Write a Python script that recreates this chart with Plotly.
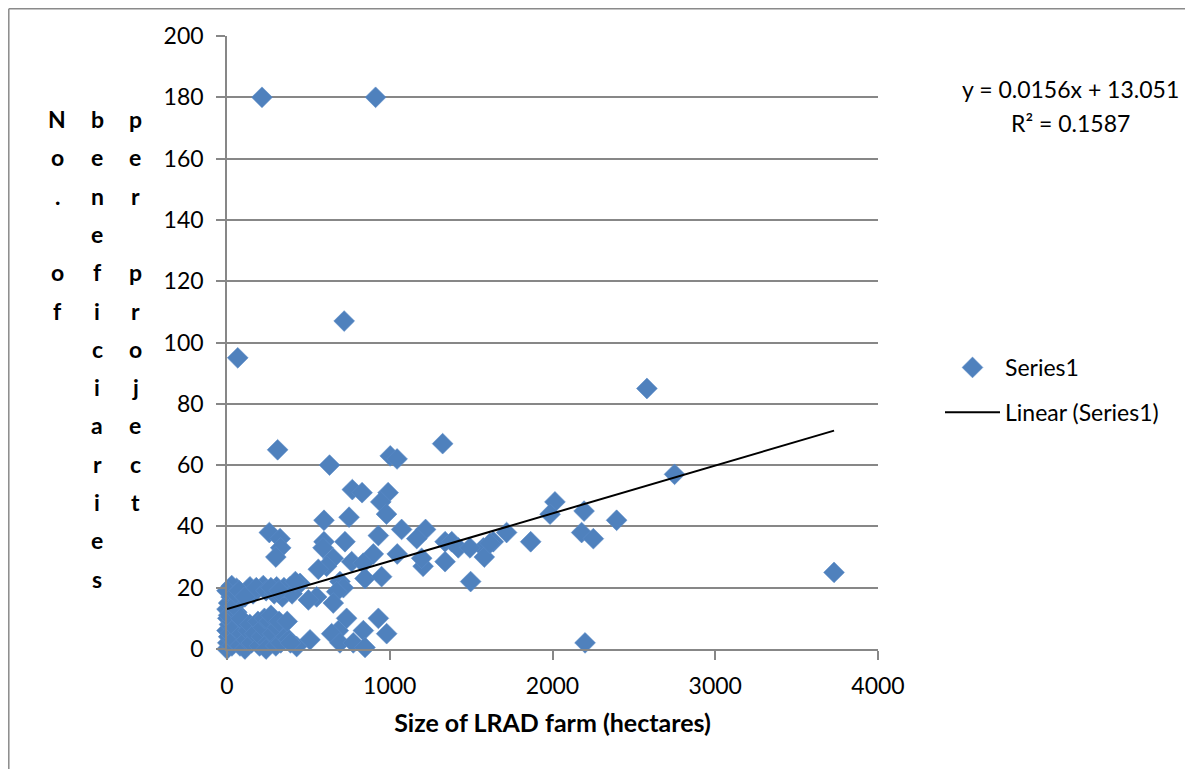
import plotly.graph_objects as go

# ---- data (hectares, beneficiaries) ----
farm_size = [
    215, 913, 720, 66, 2580, 2750, 3730, 2200,
    311, 1325, 630, 1003, 1045, 770, 830, 990, 945, 980, 750, 596,
    260, 326, 330, 300, 596, 590, 725, 930, 1073, 1220, 1166, 1340, 1381, 1421,
    1046, 899, 1340, 1205, 653, 612, 561, 766, 837, 848, 950, 694, 715, 674,
    551, 500, 653, 449, 387, 305, 223, 141, 59, 29,
    735, 930, 838, 981, 684, 643, 694, 776, 848, 510, 428,
    2015, 1985, 2194, 2394, 1718, 2179, 2251, 1866, 1636, 1575, 1493, 1581, 1497, 1616, 1196,
    0, 5, 10, 0, 15, 5, 20, 0, 10, 25, 0, 30, 20, 30, 10,
    40, 50, 60, 70, 80, 45, 90, 100, 55, 85, 75,
    110, 120, 130, 140, 150, 160, 170, 180, 190, 200, 110,
    210, 220, 230, 240, 250, 260, 270, 280, 290, 240, 300, 270,
    310, 320, 330, 340, 350, 360, 380, 400, 420, 370, 320, 390,
]
beneficiaries = [
    180, 180, 107, 95, 85, 57, 25, 2,
    65, 67, 60, 63, 62, 52, 51, 51, 48, 44, 43, 42,
    38, 36, 33, 30, 35, 33, 35, 37, 39, 39, 36, 35, 35, 33,
    31, 31, 28.5, 27, 29.6, 27, 26, 28.5, 28, 23, 23.6, 22, 20, 18.7,
    17, 16, 15, 21.4, 20.3, 20.3, 20.7, 20.3, 19.8, 20.7,
    10, 10, 6, 5, 6, 5, 2, 2, 0.5, 3, 0.8,
    48, 44, 45, 42, 38, 38, 36, 35, 35, 33, 33, 30, 22, 34.5, 29.6,
    0, 2, 4, 6, 8, 10, 12, 13, 15, 17, 19, 1, 5, 9, 11,
    3, 7, 12, 16, 1, 14, 5, 9, 18, 10, 19,
    0, 3, 6, 8, 2, 18, 5, 20, 9, 1, 17,
    4, 7, 10, 19, 2, 9, 11, 5, 18, 0, 1, 20,
    7, 9, 2, 17, 20, 4, 3, 18, 22, 9, 19, 2,
]

trend_slope = 0.0156
trend_intercept = 13.051
equation_text = "y = 0.0156x + 13.051"
r2_text = "R² = 0.1587"

x_ticks = [0, 1000, 2000, 3000, 4000]
y_ticks = [0, 20, 40, 60, 80, 100, 120, 140, 160, 180, 200]

y_title_columns = [
    ["N", "o", ".", "", "o", "f"],
    ["b", "e", "n", "e", "f", "i", "c", "i", "a", "r", "i", "e", "s"],
    ["p", "e", "r", "", "p", "r", "o", "j", "e", "c", "t"],
]

# ---- figure (page body adds 8px offset, so compensate) ----
OFF = 8
W, H = 1193 - OFF, 769 - OFF
L, T = 227 - OFF, 36 - OFF
PW, PH = 651, 613
R, B = W - L - PW, H - T - PH
FONT = "Lato, 'Open Sans', sans-serif"
GRID = "#878787"
BLUE = "#4F81BD"

def px_to_paper_x(px):
    return (px - OFF - L) / PW

def px_to_paper_y(py):
    return (T + PH - (py - OFF)) / PH

fig = go.Figure()

fig.add_trace(go.Scatter(
    x=farm_size, y=beneficiaries, mode="markers", name="Series1",
    legendgroup="a",
    marker=dict(symbol="diamond", size=16, color=BLUE,
                line=dict(color="#5B8BC7", width=0.6)),
    cliponaxis=False,
))

x_lo, x_hi = min(farm_size), max(farm_size)
fig.add_trace(go.Scatter(
    x=[x_lo, x_hi],
    y=[trend_slope * x_lo + trend_intercept, trend_slope * x_hi + trend_intercept],
    mode="lines", name="Linear (Series1)", legendgroup="b",
    line=dict(color="black", width=2),
))

annotations = []
annotations.append(dict(text=equation_text, xref="paper", yref="paper",
                        x=px_to_paper_x(1070), y=px_to_paper_y(89),
                        showarrow=False, xanchor="center", yanchor="middle",
                        font=dict(family=FONT, size=23, color="black")))
annotations.append(dict(text=r2_text, xref="paper", yref="paper",
                        x=px_to_paper_x(1070), y=px_to_paper_y(123),
                        showarrow=False, xanchor="center", yanchor="middle",
                        font=dict(family=FONT, size=23, color="black")))
col_px = [57, 97, 135]
for ci, letters in enumerate(y_title_columns):
    for ri, ch in enumerate(letters):
        if not ch:
            continue
        annotations.append(dict(text="<b>%s</b>" % ch, xref="paper", yref="paper",
                                x=px_to_paper_x(col_px[ci]), y=px_to_paper_y(119 + 38.3 * ri),
                                showarrow=False, xanchor="center", yanchor="middle",
                                font=dict(family=FONT, size=23, color="black")))

bx = (0.8 - L) / PW
by = (T + PH - 0.8) / PH
border_line = dict(color="#8a8a8a", width=1.5)

fig.update_layout(
    width=W, height=H,
    margin=dict(l=L, r=R, t=T, b=B, autoexpand=False),
    paper_bgcolor="white", plot_bgcolor="white",
    font=dict(family=FONT, size=23, color="black"),
    showlegend=True,
    legend=dict(x=px_to_paper_x(940), y=px_to_paper_y(346), xanchor="left", yanchor="top",
                font=dict(family=FONT, size=23, color="black"),
                itemwidth=55, tracegroupgap=12, bgcolor="rgba(0,0,0,0)"),
    annotations=annotations,
    shapes=[
        dict(type="line", xref="paper", yref="paper", x0=bx, x1=bx,
             y0=px_to_paper_y(1000), y1=by, line=border_line, layer="below"),
        dict(type="line", xref="paper", yref="paper", x0=bx, x1=px_to_paper_x(1400),
             y0=by, y1=by, line=border_line, layer="below"),
    ],
    xaxis=dict(range=[0, 4000], tickvals=x_ticks, ticks="outside", ticklen=9,
               tickcolor=GRID, tickwidth=1.5, showgrid=False, zeroline=False,
               showline=True, linecolor=GRID, linewidth=1.5, ticklabelstandoff=7,
               tickfont=dict(family=FONT, size=23, color="black"),
               title=dict(text="<b>Size of LRAD farm (hectares)</b>", standoff=16,
                          font=dict(family=FONT, size=25, color="black"))),
    yaxis=dict(range=[0, 200], tickvals=y_ticks, ticks="outside", ticklen=9,
               tickcolor=GRID, tickwidth=1.5, showgrid=True, gridcolor=GRID, gridwidth=1.5,
               zeroline=False, showline=True, linecolor=GRID, linewidth=1.5, ticklabelstandoff=8,
               tickfont=dict(family=FONT, size=23, color="black")),
)

fig.write_html("out.html")
